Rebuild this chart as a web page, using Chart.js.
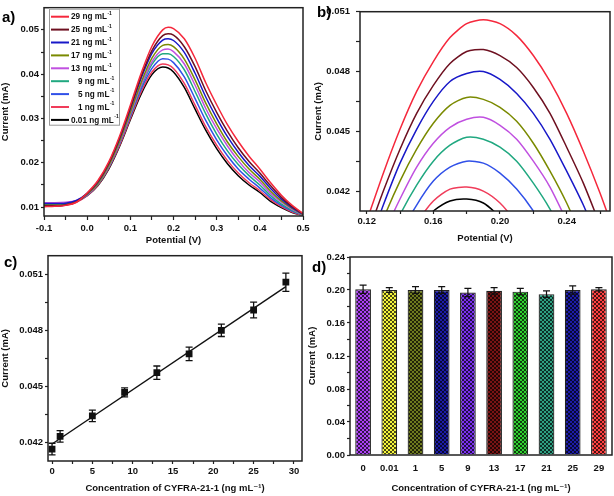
<!DOCTYPE html>
<html><head><meta charset="utf-8">
<script src="https://cdn.jsdelivr.net/npm/chart.js@4.4.1/dist/chart.umd.min.js"></script>
<style>
html,body{margin:0;padding:0;background:#fff;}
#wrap{position:relative;width:614px;height:496px;overflow:hidden;background:#fff;}
canvas{position:absolute;}
.lab{position:absolute;font:bold 15px "Liberation Sans",Arial,sans-serif;line-height:15px;color:#000;}
</style></head><body>
<div id="wrap">
<canvas id="ca" width="320" height="248" style="left:0;top:0"></canvas>
<canvas id="cb" width="307" height="248" style="left:307px;top:0"></canvas>
<canvas id="cc" width="320" height="248" style="left:0;top:248px"></canvas>
<canvas id="cd" width="307" height="248" style="left:307px;top:248px"></canvas>
<div class="lab" style="left:2px;top:9px">a)</div>
<div class="lab" style="left:317px;top:4px">b)</div>
<div class="lab" style="left:4px;top:254px">c)</div>
<div class="lab" style="left:312px;top:259px">d)</div>
</div>
<script>
// ---------------- DATA ----------------
const concLabels = ['29','25','21','17','13','9','5','1','0.01'];
const curveColors = ['#f5283c','#6e1020','#1818c8','#7a8a00','#c050e0','#20a880','#3050e8','#f03c5a','#000000'];

// Panel a: DPV curves, potential (V) vs current (mA)
const potentialA = [-0.1,-0.075,-0.05,-0.025,0,0.025,0.05,0.075,0.1,0.125,0.15,0.175,0.1875,0.2,0.225,0.25,0.275,0.3,0.325,0.35,0.375,0.4,0.425,0.45,0.475,0.5];
const cur29 = [0.0101,0.0102,0.0104,0.0111,0.0132,0.0160,0.0202,0.0260,0.0330,0.0402,0.0463,0.0500,0.0506,0.0503,0.0480,0.0436,0.0380,0.0331,0.0286,0.0248,0.0215,0.0186,0.0155,0.0127,0.0104,0.0086];
const cur25 = [0.0103,0.0103,0.0105,0.0112,0.0131,0.0158,0.0199,0.0256,0.0324,0.0395,0.0453,0.0487,0.0491,0.0488,0.0462,0.0417,0.0362,0.0314,0.0271,0.0234,0.0203,0.0177,0.0148,0.0122,0.0101,0.0085];
const cur21 = [0.0108,0.0108,0.0109,0.0115,0.0131,0.0157,0.0199,0.0255,0.0322,0.0391,0.0447,0.0477,0.0480,0.0476,0.0449,0.0402,0.0348,0.0301,0.0259,0.0224,0.0194,0.0170,0.0142,0.0118,0.0099,0.0084];
const cur17 = [0.0107,0.0107,0.0108,0.0113,0.0129,0.0154,0.0194,0.0249,0.0314,0.0381,0.0436,0.0465,0.0467,0.0462,0.0434,0.0387,0.0334,0.0288,0.0247,0.0214,0.0186,0.0163,0.0136,0.0114,0.0097,0.0083];
const cur13 = [0.0110,0.0110,0.0111,0.0115,0.0128,0.0153,0.0192,0.0246,0.0310,0.0375,0.0428,0.0455,0.0457,0.0451,0.0423,0.0375,0.0322,0.0277,0.0238,0.0205,0.0178,0.0157,0.0131,0.0111,0.0095,0.0083];
const cur9  = [0.0106,0.0106,0.0107,0.0113,0.0128,0.0152,0.0191,0.0245,0.0308,0.0372,0.0422,0.0446,0.0446,0.0440,0.0410,0.0361,0.0310,0.0265,0.0227,0.0196,0.0171,0.0150,0.0126,0.0107,0.0093,0.0082];
const cur5  = [0.0105,0.0105,0.0107,0.0113,0.0127,0.0152,0.0190,0.0243,0.0305,0.0366,0.0413,0.0435,0.0434,0.0426,0.0394,0.0345,0.0295,0.0252,0.0216,0.0186,0.0163,0.0143,0.0121,0.0104,0.0091,0.0082];
const cur1  = [0.0102,0.0102,0.0104,0.0111,0.0126,0.0150,0.0188,0.0239,0.0300,0.0360,0.0405,0.0423,0.0421,0.0413,0.0379,0.0330,0.0281,0.0240,0.0205,0.0177,0.0155,0.0137,0.0117,0.0101,0.0089,0.0081];
const cur001= [0.0104,0.0105,0.0107,0.0113,0.0126,0.0149,0.0186,0.0237,0.0297,0.0355,0.0399,0.0416,0.0414,0.0405,0.0370,0.0321,0.0273,0.0232,0.0198,0.0171,0.0150,0.0133,0.0113,0.0099,0.0088,0.0081];

// Panel b: zoom of the peak region
const potentialB = [0.12,0.13,0.14,0.15,0.16,0.17,0.18,0.19,0.20,0.21,0.22,0.23,0.24,0.25,0.26,0.27];
const zoom29 = [0.0405,0.0429,0.0451,0.0470,0.0485,0.0497,0.0504,0.0506,0.0504,0.0498,0.0488,0.0475,0.0459,0.0440,0.0419,0.0396];
const zoom25 = [0.0397,0.0420,0.0441,0.0459,0.0473,0.0484,0.0490,0.0491,0.0488,0.0482,0.0472,0.0459,0.0442,0.0424,0.0403,0.0381];
const zoom21 = [0.0390,0.0413,0.0434,0.0451,0.0465,0.0475,0.0479,0.0480,0.0476,0.0469,0.0459,0.0446,0.0430,0.0413,0.0393,0.0372];
const zoom17 = [0.0384,0.0406,0.0425,0.0441,0.0454,0.0463,0.0467,0.0466,0.0462,0.0455,0.0444,0.0430,0.0414,0.0395,0.0375,0.0355];
const zoom13 = [0.0377,0.0398,0.0416,0.0432,0.0444,0.0452,0.0456,0.0457,0.0453,0.0446,0.0435,0.0422,0.0405,0.0387,0.0367,0.0346];
const zoom9  = [0.0368,0.0389,0.0408,0.0423,0.0435,0.0443,0.0447,0.0446,0.0442,0.0435,0.0424,0.0411,0.0395,0.0377,0.0357,0.0336];
const zoom5  = [0.0358,0.0379,0.0398,0.0413,0.0425,0.0432,0.0435,0.0434,0.0429,0.0421,0.0410,0.0396,0.0380,0.0362,0.0343,0.0323];
const zoom1  = [0.0354,0.0373,0.0390,0.0404,0.0415,0.0421,0.0422,0.0420,0.0414,0.0404,0.0392,0.0376,0.0359,0.0341,0.0323,0.0305];
const zoom001= [0.0359,0.0376,0.0390,0.0402,0.0410,0.0415,0.0416,0.0414,0.0407,0.0398,0.0387,0.0374,0.0360,0.0345,0.0330,0.0314];

// Panel c: calibration
const concC = [0,1,5,9,13,17,21,25,29];
const currentC = [0.04164,0.04232,0.04342,0.04468,0.04573,0.04674,0.04800,0.04909,0.05058];
const errorC = [0.00031,0.00031,0.00031,0.00024,0.00036,0.00036,0.00033,0.00042,0.00049];
const fitX = [0,29];
const fitY = [0.04191,0.05034];

// Panel d: stability bars
const catsD = ['0','0.01','1','5','9','13','17','21','25','29'];
const currentD = [0.201,0.200,0.200,0.200,0.197,0.199,0.198,0.195,0.200,0.201];
const errorD = [0.005,0.003,0.004,0.004,0.005,0.004,0.004,0.004,0.005,0.002];
const barColors = ['#ac40f5','#f5f53c','#6e7a1e','#1c1ca8','#7a30f0','#7a1414','#30d030','#2ea082','#1c1ca8','#ff4040'];

// Tick values
const ticksAxMajor = [-0.1,0,0.1,0.2,0.3,0.4,0.5];
const ticksAxMinor = [-0.05,0.05,0.15,0.25,0.35,0.45];
const ticksAyMajor = [0.01,0.02,0.03,0.04,0.05];
const ticksAyMinor = [0.015,0.025,0.035,0.045];
const ticksBxMajor = [0.12,0.16,0.20,0.24];
const ticksBxMinor = [0.14,0.18,0.22,0.26];
const ticksByMajor = [0.042,0.045,0.048,0.051];
const ticksByMinor = [0.0435,0.0465,0.0495];
const ticksCxMajor = [0,5,10,15,20,25,30];
const ticksCxMinor = [2.5,7.5,12.5,17.5,22.5,27.5];
const ticksCyMajor = [0.042,0.045,0.048,0.051];
const ticksCyMinor = [0.0435,0.0465,0.0495];
const ticksDyMajor = [0,0.04,0.08,0.12,0.16,0.20,0.24];
const ticksDyMinor = [0.02,0.06,0.10,0.14,0.18,0.22];

const seriesA = [cur29,cur25,cur21,cur17,cur13,cur9,cur5,cur1,cur001];
const seriesB = [zoom29,zoom25,zoom21,zoom17,zoom13,zoom9,zoom5,zoom1,zoom001];

// ---------------- SETUP ----------------
const FONT = '"Liberation Sans", Arial, "DejaVu Sans", sans-serif';
Chart.defaults.font.family = FONT;
Chart.defaults.font.weight = 'bold';
Chart.defaults.font.size = 9.5;
Chart.defaults.color = '#111';

const framePlugin = {
  id: 'frame',
  afterDraw(chart) {
    const a = chart.chartArea, ctx = chart.ctx;
    ctx.save(); ctx.strokeStyle = '#222'; ctx.lineWidth = 1.5;
    ctx.strokeRect(a.left, a.top, a.right - a.left, a.bottom - a.top);
    ctx.restore();
  }
};

const errPlugin = {
  id: 'errBars',
  afterDatasetsDraw(chart, args, opts) {
    if (!opts || !opts.errors) return;
    const meta = chart.getDatasetMeta(opts.datasetIndex);
    const ds = chart.data.datasets[opts.datasetIndex];
    const ys = chart.scales[meta.yAxisID];
    const ctx = chart.ctx;
    ctx.save(); ctx.strokeStyle = '#111'; ctx.lineWidth = opts.width || 1.2;
    meta.data.forEach((el, i) => {
      const raw = ds.data[i];
      const v = (typeof raw === 'object') ? raw.y : raw;
      const e = opts.errors[i];
      const x = el.x, y1 = ys.getPixelForValue(v + e), y2 = ys.getPixelForValue(v - e);
      const c = opts.cap;
      ctx.beginPath();
      ctx.moveTo(x, y1); ctx.lineTo(x, y2);
      ctx.moveTo(x - c, y1); ctx.lineTo(x + c, y1);
      ctx.moveTo(x - c, y2); ctx.lineTo(x + c, y2);
      ctx.stroke();
    });
    ctx.restore();
  }
};

const legendPlugin = {
  id: 'boxLegend',
  afterDraw(chart) {
    const a = chart.chartArea, ctx = chart.ctx;
    const x0 = a.left + 5, y0 = a.top + 1, w = 70, h = 116;
    ctx.save();
    ctx.fillStyle = '#fff'; ctx.fillRect(x0, y0, w, h);
    ctx.strokeStyle = '#999'; ctx.lineWidth = 1; ctx.strokeRect(x0 + 0.5, y0 + 0.5, w, h);
    chart.data.datasets.forEach((ds, i) => {
      const y = y0 + 8 + i * 12.9;
      ctx.strokeStyle = ds.borderColor; ctx.lineWidth = 2;
      ctx.beginPath(); ctx.moveTo(x0 + 2, y); ctx.lineTo(x0 + 20, y); ctx.stroke();
      const num = concLabels[i];
      const tx = x0 + (num.length === 1 ? 29 : 22);
      ctx.fillStyle = '#111'; ctx.textBaseline = 'middle'; ctx.textAlign = 'left';
      ctx.font = 'bold 8.2px ' + FONT;
      const txt = num + ' ng mL';
      ctx.fillText(txt, tx, y + 0.5);
      const tw = ctx.measureText(txt).width;
      ctx.font = 'bold 5px ' + FONT;
      ctx.fillText('-1', tx + tw + 0.5, y - 3);
    });
    ctx.restore();
  }
};

function axis(o) {
  const all = o.major ? o.major.concat(o.minor || []).sort((p, q) => p - q) : null;
  const ax = {
    type: o.type || 'linear',
    position: o.pos,
    border: { display: false },
    grid: { drawOnChartArea: false, drawTicks: o.drawTicks !== false, tickLength: o.tl || 3, tickColor: '#222', tickWidth: 1.2 },
    ticks: { autoSkip: false, maxRotation: 0, minRotation: 0, padding: o.pad, color: '#111', font: { size: 9.5, weight: 'bold' } },
    title: { display: true, text: o.title, color: '#111', font: { size: 9.5, weight: 'bold' }, padding: o.tpad },
    afterFit: (s) => { if (o.pos === 'left') s.width = o.size; else s.height = o.size; }
  };
  if (o.min !== undefined) ax.min = o.min;
  if (o.max !== undefined) ax.max = o.max;
  if (all) {
    ax.afterBuildTicks = (s) => { s.ticks = all.map(v => ({ value: v })); };
    ax.ticks.callback = (v) => o.major.includes(v) ? o.fmt(v) : '';
  }
  return ax;
}

const common = {
  responsive: false, animation: false, devicePixelRatio: 1, events: [],
};

// ---------------- PANEL A ----------------
new Chart(document.getElementById('ca'), {
  type: 'scatter',
  data: {
    datasets: seriesA.map((s, i) => ({
      label: concLabels[i] + ' ng mL⁻¹',
      data: potentialA.map((x, j) => ({ x: x, y: s[j] })),
      showLine: true, borderColor: curveColors[i], backgroundColor: curveColors[i],
      borderWidth: 1.5, pointRadius: 0, cubicInterpolationMode: 'monotone'
    }))
  },
  options: Object.assign({}, common, {
    layout: { padding: { left: 0, top: 6, right: 17, bottom: 0 } },
    plugins: { legend: { display: false }, tooltip: { enabled: false } },
    scales: {
      x: axis({ pos: 'bottom', min: -0.1, max: 0.5, major: ticksAxMajor, minor: ticksAxMinor, fmt: v => v.toFixed(1), title: 'Potential (V)', tl: 4, pad: 3, tpad: { top: 0, bottom: 2.3 }, size: 32 }),
      y: axis({ pos: 'left', min: 0.008, max: 0.055, major: ticksAyMajor, minor: ticksAyMinor, fmt: v => v.toFixed(2), title: 'Current (mA)', tl: 3, pad: 2, tpad: { top: 0, bottom: 0 }, size: 44 })
    }
  }),
  plugins: [framePlugin, legendPlugin]
});

// ---------------- PANEL B ----------------
new Chart(document.getElementById('cb'), {
  type: 'scatter',
  data: {
    datasets: seriesB.map((s, i) => ({
      label: concLabels[i] + ' ng mL⁻¹',
      data: potentialB.map((x, j) => ({ x: x, y: s[j] })),
      showLine: true, borderColor: curveColors[i], backgroundColor: curveColors[i],
      borderWidth: 1.5, pointRadius: 0, tension: 0.25
    }))
  },
  options: Object.assign({}, common, {
    layout: { padding: { left: 0, top: 6, right: 4, bottom: 0 } },
    plugins: { legend: { display: false }, tooltip: { enabled: false } },
    scales: {
      x: axis({ pos: 'bottom', min: 0.116, max: 0.266, major: ticksBxMajor, minor: ticksBxMinor, fmt: v => v.toFixed(2), title: 'Potential (V)', tl: 3, pad: 2, tpad: { top: 0, bottom: 4.3 }, size: 37 }),
      y: axis({ pos: 'left', min: 0.041, max: 0.051, major: ticksByMajor, minor: ticksByMinor, fmt: v => v.toFixed(3), title: 'Current (mA)', tl: 4, pad: 6, tpad: { top: 5.3, bottom: 0 }, size: 53 })
    }
  }),
  plugins: [framePlugin]
});

// ---------------- PANEL C ----------------
new Chart(document.getElementById('cc'), {
  type: 'scatter',
  data: {
    datasets: [
      { label: 'Current', data: concC.map((x, i) => ({ x: x, y: currentC[i] })),
        pointStyle: 'rect', pointRadius: 4.8, backgroundColor: '#111', borderColor: '#111', borderWidth: 0 },
      { label: 'Linear fit', data: fitX.map((x, i) => ({ x: x, y: fitY[i] })), showLine: true,
        borderColor: '#111', borderWidth: 1.4, pointRadius: 0 }
    ]
  },
  options: Object.assign({}, common, {
    layout: { padding: { left: 0, top: 7, right: 18, bottom: 0 } },
    plugins: { legend: { display: false }, tooltip: { enabled: false }, errBars: { datasetIndex: 0, errors: errorC, cap: 3.5, width: 1.3 } },
    scales: {
      x: axis({ pos: 'bottom', min: -0.5, max: 31, major: ticksCxMajor, minor: ticksCxMinor, fmt: v => String(v), title: 'Concentration of CYFRA-21-1 (ng mL⁻¹)', tl: 3, pad: 2, tpad: { top: 0, bottom: 2.3 }, size: 35 }),
      y: axis({ pos: 'left', min: 0.041, max: 0.052, major: ticksCyMajor, minor: ticksCyMinor, fmt: v => v.toFixed(3), title: 'Current (mA)', tl: 3, pad: 2, tpad: { top: 0, bottom: 0 }, size: 48 })
    }
  }),
  plugins: [framePlugin, errPlugin]
});

// ---------------- PANEL D ----------------
const cdEl = document.getElementById('cd');
const cdCtx = cdEl.getContext('2d');
function hatch(color) {
  const c = document.createElement('canvas'); c.width = 4; c.height = 4;
  const g = c.getContext('2d');
  g.fillStyle = color; g.fillRect(0, 0, 4, 4);
  g.strokeStyle = 'rgba(0,0,0,0.7)'; g.lineWidth = 1;
  g.beginPath(); g.moveTo(0, 0); g.lineTo(4, 4); g.moveTo(4, 0); g.lineTo(0, 4); g.stroke();
  return cdCtx.createPattern(c, 'repeat');
}
const yD = axis({ pos: 'left', min: 0, max: 0.24, major: ticksDyMajor, minor: ticksDyMinor, fmt: v => v.toFixed(2), title: 'Current (mA)', tl: 3, pad: 2, tpad: { top: 0, bottom: 0 }, size: 43 });
const xD = axis({ type: 'category', pos: 'bottom', title: 'Concentration of CYFRA-21-1 (ng mL⁻¹)', drawTicks: false, pad: 8, tpad: { top: 0, bottom: 2.3 }, size: 41 });
new Chart(cdEl, {
  type: 'bar',
  data: {
    labels: catsD,
    datasets: [{ label: 'Current', data: currentD, backgroundColor: barColors.map(hatch),
      borderColor: '#222', borderWidth: 1.2, barPercentage: 0.6, categoryPercentage: 1 }]
  },
  options: Object.assign({}, common, {
    layout: { padding: { left: 0, top: 9, right: 2, bottom: 0 } },
    plugins: { legend: { display: false }, tooltip: { enabled: false }, errBars: { datasetIndex: 0, errors: errorD, cap: 3.5, width: 1.2 } },
    scales: { x: xD, y: yD }
  }),
  plugins: [framePlugin, errPlugin]
});
</script>
</body></html>
